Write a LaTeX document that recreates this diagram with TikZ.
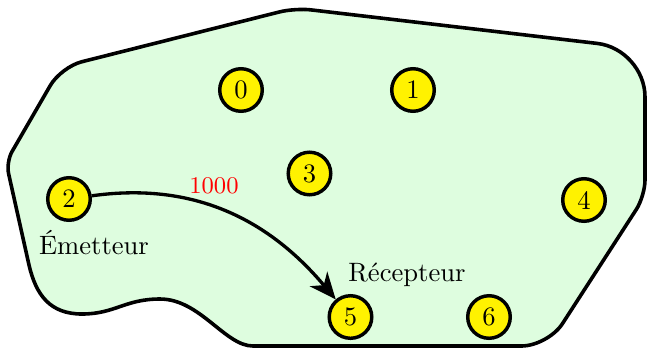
\documentclass[tikz,border=0pt]{standalone}
\usetikzlibrary{arrows.meta}
\definecolor{zone}{RGB}{222,253,223}
\definecolor{nodey}{RGB}{255,242,0}
\tikzset{
  px/.style={x=0.376pt,y=-0.376pt},
  outline/.style={draw=black,line width=1.35pt,fill=zone},
  station/.style={circle,draw=black,line width=1.3pt,fill=nodey,minimum size=16pt,inner sep=0pt},
  link/.style={line width=1.25pt,-{Stealth[length=10pt,width=8.5pt,inset=3pt]}},
  weight/.style={red,font=\small},
  role/.style={font=\normalsize}
}
\begin{document}
\begin{tikzpicture}[px]
\useasboundingbox (0,0) rectangle (647,349);
\path[outline] (400,346) -- (253,346)
  .. controls (225,346) and (200,299) .. (160,299)
  .. controls (125,299) and (115,314) .. (82,314)
  .. controls (50,314) and (36,295) .. (29,265)
  [rounded corners=4.5pt] -- (6,162)
  [rounded corners=8pt] -- (61,67)
  [rounded corners=6pt] -- (295,8)
  [rounded corners=18pt] -- (645,49)
  [rounded corners=6pt] -- (645,196)
  [rounded corners=10pt] -- (548,346)
  [sharp corners] -- cycle;
\node[station] (n0) at (241,90) {0};
\node[station] (n1) at (413,90) {1};
\node[station] (n2) at (69,199) {2};
\node[station] (n3) at (309.5,173.5) {3};
\node[station] (n4) at (584,200) {4};
\node[station] (n5) at (350.5,317) {5};
\node[station] (n6) at (489,317) {6};
\node[role] (em) at (94,243) {Émetteur};
\node[role] (rec) at (407,275) {Récepteur};
\node[weight] (w) at (214,186) {1000};
\draw[link] (n2) to[out=8,in=130] (n5);
\end{tikzpicture}
\end{document}
